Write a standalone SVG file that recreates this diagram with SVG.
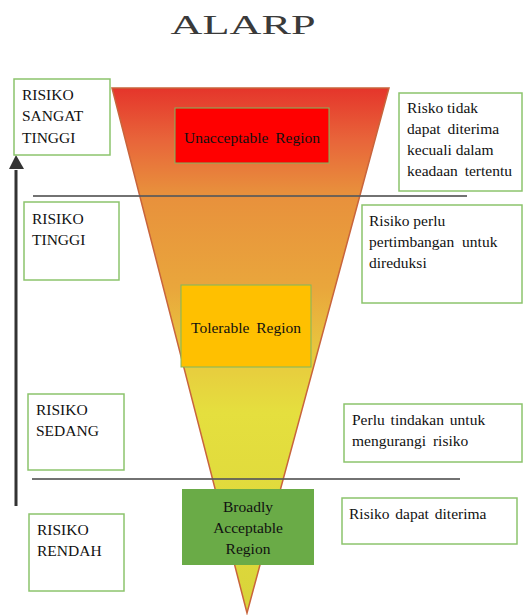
<svg xmlns="http://www.w3.org/2000/svg" width="523" height="615" viewBox="0 0 523 615" font-family="'Liberation Serif', 'Times New Roman', serif">
<style>
.box{fill:#fff;stroke:#8cc46c;stroke-width:1.5}
.t{font-size:15.5px;fill:#111}
.c{text-anchor:middle}
.hl{stroke:#5a5a5a;stroke-width:2.2;opacity:0.85}
</style>
<defs>
<linearGradient id="g" gradientUnits="userSpaceOnUse" x1="0" y1="88" x2="0" y2="612">
<stop offset="0" stop-color="#e5352b"/>
<stop offset="0.1" stop-color="#e8653a"/>
<stop offset="0.2" stop-color="#e8903c"/>
<stop offset="0.38" stop-color="#e9a63c"/>
<stop offset="0.5" stop-color="#e8c63e"/>
<stop offset="0.62" stop-color="#e5df3e"/>
<stop offset="1" stop-color="#d9d43a"/>
</linearGradient>
</defs>
<text x="243" y="34" font-size="27" fill="#3a3a3a" textLength="145" lengthAdjust="spacingAndGlyphs" text-anchor="middle">ALARP</text>

<g id="funnel">
<polygon points="112,88 389,88 247,613" fill="url(#g)" stroke="#c8643c" stroke-width="1.5"/>
</g>

<g id="connectors">
<line class="hl" x1="33" y1="196" x2="467" y2="196"/>
<line class="hl" x1="32" y1="479" x2="460" y2="479"/>
<line x1="16" y1="506" x2="16" y2="170" stroke="#333" stroke-width="3"/>
<polygon points="16,155 9,169 24,169" fill="#333"/>
</g>

<g id="unacceptable">
<rect x="175" y="108" width="154" height="55" fill="#ff0000" stroke="#7fb85e" stroke-width="1"/>
<text class="t c" x="252" y="143" word-spacing="3">Unacceptable Region</text>
</g>
<g id="tolerable">
<rect x="181" y="285" width="130" height="82" fill="#ffc000" stroke="#7fb85e" stroke-width="1"/>
<text class="t c" x="246" y="333" word-spacing="3">Tolerable Region</text>
</g>
<g id="broadly">
<rect x="182" y="489" width="132" height="76" fill="#6aab47"/>
<text class="t c" x="248" y="512">Broadly</text>
<text class="t c" x="248" y="533">Acceptable</text>
<text class="t c" x="248" y="554">Region</text>
</g>

<g id="risiko-sangat-tinggi">
<rect class="box" x="14" y="79" width="96" height="76"/>
<text class="t" x="22" y="100">RISIKO</text>
<text class="t" x="22" y="121">SANGAT</text>
<text class="t" x="22" y="143">TINGGI</text>
</g>
<g id="risiko-tinggi">
<rect class="box" x="24" y="202" width="95" height="78"/>
<text class="t" x="32" y="224">RISIKO</text>
<text class="t" x="32" y="245">TINGGI</text>
</g>
<g id="risiko-sedang">
<rect class="box" x="28" y="394" width="96" height="76"/>
<text class="t" x="36" y="415">RISIKO</text>
<text class="t" x="36" y="436">SEDANG</text>
</g>
<g id="risiko-rendah">
<rect class="box" x="29" y="514" width="95" height="77"/>
<text class="t" x="37" y="535">RISIKO</text>
<text class="t" x="37" y="556">RENDAH</text>
</g>

<g id="desc-1">
<rect class="box" x="399" y="93" width="123" height="98"/>
<text class="t" x="407" y="113">Risko tidak</text>
<text class="t" x="407" y="134" word-spacing="3">dapat diterima</text>
<text class="t" x="407" y="155">kecuali dalam</text>
<text class="t" x="407" y="176" word-spacing="3">keadaan tertentu</text>
</g>
<g id="desc-2">
<rect class="box" x="362" y="205" width="160" height="98"/>
<text class="t" x="369" y="226">Risiko perlu</text>
<text class="t" x="369" y="247" word-spacing="4">pertimbangan untuk</text>
<text class="t" x="369" y="268">direduksi</text>
</g>
<g id="desc-3">
<rect class="box" x="344" y="404" width="178" height="58"/>
<text class="t" x="352" y="425" word-spacing="2">Perlu tindakan untuk</text>
<text class="t" x="352" y="446" word-spacing="3">mengurangi risiko</text>
</g>
<g id="desc-4">
<rect class="box" x="342" y="498" width="175" height="46"/>
<text class="t" x="349" y="519" word-spacing="2">Risiko dapat diterima</text>
</g>
</svg>
